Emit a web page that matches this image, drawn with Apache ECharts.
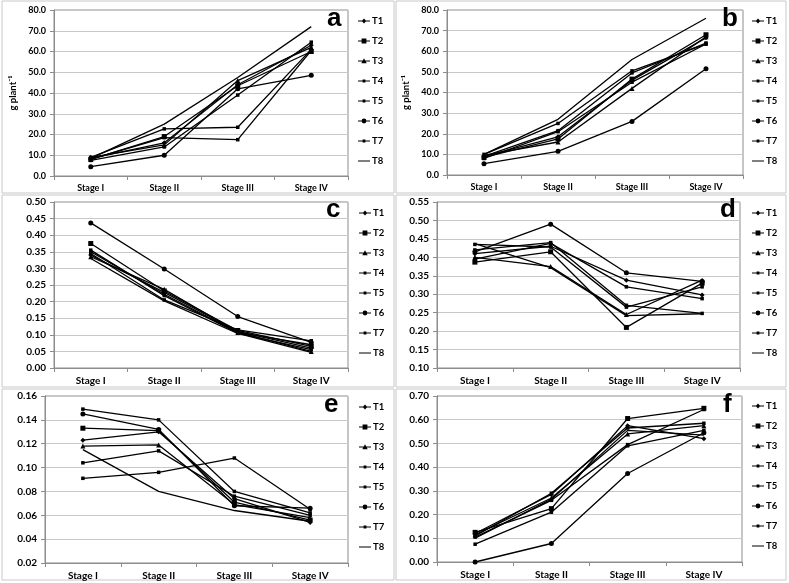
<!DOCTYPE html>
<html>
<head>
<meta charset="utf-8">
<script src="https://cdn.jsdelivr.net/npm/echarts@6/dist/echarts.min.js"></script>
<style>
html, body { margin: 0; padding: 0; background: #fff; }
#main { width: 789px; height: 583px; }
</style>
</head>
<body>
<div id="main"></div>
<script>
// categories and series names
var stages = ['Stage I', 'Stage II', 'Stage III', 'Stage IV']
var treatments = ['T1', 'T2', 'T3', 'T4', 'T5', 'T6', 'T7', 'T8']

// one row per treatment T1..T8, values for Stage I..IV
var panelA = [
  [8.5, 16, 44, 63],
  [8, 19, 43.5, 60],
  [9, 15, 46, 62],
  [8, 18.5, 17.5, 60.5],
  [7.5, 14, 39, 64.5],
  [4.5, 10, 42, 48.5],
  [9, 22.7, 23.5, 61],
  [8.5, 25, 47.5, 72]
]
var panelB = [
  [9, 18.5, 46, 66.5],
  [8.5, 17.5, 46.5, 68],
  [9.5, 16, 42, 67],
  [8, 21, 45, 63.5],
  [9, 21.5, 49.5, 64],
  [5.5, 11.5, 26, 51.5],
  [10, 25, 50.5, 63.5],
  [10, 27, 56, 76]
]
var panelC = [
  [0.34, 0.228, 0.11, 0.06],
  [0.375, 0.232, 0.113, 0.065],
  [0.335, 0.237, 0.108, 0.05],
  [0.35, 0.222, 0.107, 0.07],
  [0.355, 0.218, 0.105, 0.055],
  [0.437, 0.298, 0.155, 0.077],
  [0.345, 0.205, 0.115, 0.082],
  [0.33, 0.202, 0.104, 0.047]
]
var panelD = [
  [0.41, 0.43, 0.338, 0.298],
  [0.387, 0.415, 0.21, 0.33],
  [0.40, 0.375, 0.245, 0.338],
  [0.42, 0.44, 0.27, 0.248],
  [0.395, 0.438, 0.32, 0.288],
  [0.415, 0.49, 0.358, 0.335],
  [0.435, 0.428, 0.265, 0.32],
  [0.437, 0.372, 0.242, 0.247]
]
var panelE = [
  [0.123, 0.13, 0.074, 0.054],
  [0.133, 0.131, 0.071, 0.056],
  [0.118, 0.119, 0.069, 0.058],
  [0.104, 0.114, 0.076, 0.06],
  [0.149, 0.14, 0.08, 0.062],
  [0.145, 0.132, 0.068, 0.066],
  [0.091, 0.096, 0.108, 0.065],
  [0.115, 0.08, 0.064, 0.055]
]
var panelF = [
  [0.12, 0.285, 0.575, 0.52],
  [0.125, 0.225, 0.605, 0.648],
  [0.115, 0.27, 0.54, 0.575],
  [0.105, 0.26, 0.495, 0.643],
  [0.11, 0.29, 0.565, 0.585],
  [0.0, 0.078, 0.373, 0.545],
  [0.075, 0.21, 0.49, 0.555],
  [0.10, 0.265, 0.555, 0.535]
]

// y axis ranges per panel: min, max, interval, decimals
var yMin = [0, 0, 0, 0.1, 0.02, 0]
var yMax = [80, 80, 0.5, 0.55, 0.16, 0.7]
var yStep = [10, 10, 0.05, 0.05, 0.02, 0.1]
var yDigits = [1, 1, 2, 2, 2, 2]
var panelLetters = ['a', 'b', 'c', 'd', 'e', 'f']

var panels = [panelA, panelB, panelC, panelD, panelE, panelF]
var symbols = ['diamond', 'rect', 'triangle', 'rect', 'rect', 'circle', 'rect', 'none']
var symbolSizes = [5, 5, 5, 3.5, 3.5, 5, 3.5, 0]

// legend icons: short line + marker, drawn in a 12x8 box (corner dots keep the box size)
var box = 'M0,0H0.01V0.01H0Z M11.99,7.99H12V8H11.99Z '
var stroke = 'M0,3.5H12V4.5H0Z '
var markers = [
  'M6,1.5L8.3,4L6,6.5L3.7,4Z',
  'M3.6,1.6H8.4V6.4H3.6Z',
  'M6,1.3L8.7,6.3H3.3Z',
  'M4.6,2.6H7.4V5.4H4.6Z',
  'M4.6,2.6H7.4V5.4H4.6Z',
  'M6,1.6A2.4,2.4 0 1 1 5.99,1.6Z',
  'M4.6,2.6H7.4V5.4H4.6Z',
  ''
]
var legendData = treatments.map(function (name, i) {
  return { name: name, icon: 'path://' + box + stroke + markers[i] }
})

// layout of each panel (plot area)
var grids = [
  { left: 54, top: 10, width: 294, height: 166 },
  { left: 447, top: 10, width: 296, height: 165 },
  { left: 54, top: 202, width: 294, height: 166 },
  { left: 437, top: 202, width: 303, height: 166 },
  { left: 45, top: 396, width: 303, height: 167 },
  { left: 437, top: 396, width: 305, height: 166 }
]
var labelSize = [9, 9, 10, 10, 10, 10]
var legendPos = [[358, 15], [752, 15], [359, 207], [752, 207], [359, 401], [752, 400]]
var letterPos = [[327, 6], [722, 6], [326, 197], [720, 197], [324, 392], [723, 392]]
var frames = [
  [2, 1, 392, 192], [396, 1, 390, 192],
  [2, 195, 392, 192], [396, 195, 390, 192],
  [2, 389, 392, 191], [396, 389, 390, 191]
]

var font = 'Lato, "Liberation Sans", sans-serif'

var xAxes = []
var yAxes = []
var series = []
var legends = []
var titles = []
var graphics = []

for (var p = 0; p < 6; p++) {
  xAxes.push({
    type: 'category',
    gridIndex: p,
    data: stages,
    axisLine: { lineStyle: { color: '#8c8c8c' } },
    axisTick: { show: true, length: 4, lineStyle: { color: '#8c8c8c' } },
    axisLabel: { color: '#000', fontSize: labelSize[p], fontWeight: 'bold', fontFamily: font, margin: 8 }
  })
  var digits = yDigits[p]
  yAxes.push({
    type: 'value',
    gridIndex: p,
    min: yMin[p],
    max: yMax[p],
    interval: yStep[p],
    name: p < 2 ? 'g plant\u207B\u00B9' : '',
    nameLocation: 'middle',
    nameRotate: 90,
    nameGap: 36,
    nameTextStyle: { color: '#000', fontSize: 9.5, fontWeight: 'bold', fontFamily: font },
    axisLine: { show: true, lineStyle: { color: '#8c8c8c' } },
    axisTick: { show: true, length: 4, lineStyle: { color: '#8c8c8c' } },
    splitLine: { lineStyle: { color: '#c8c8c8' } },
    axisLabel: {
      color: '#000', fontSize: labelSize[p], fontWeight: 'bold', fontFamily: font, margin: 8,
      formatter: (function (d) { return function (v) { return v.toFixed(d) } })(digits)
    }
  })
  for (var t = 0; t < 8; t++) {
    series.push({
      name: treatments[t],
      type: 'line',
      xAxisIndex: p,
      yAxisIndex: p,
      data: panels[p][t],
      symbol: symbols[t],
      symbolSize: symbolSizes[t],
      color: '#000',
      lineStyle: { color: '#000', width: 1.3 },
      itemStyle: { color: '#000' },
      animation: false
    })
  }
  legends.push({
    data: legendData,
    orient: 'vertical',
    left: legendPos[p][0],
    top: legendPos[p][1],
    itemWidth: 12,
    itemHeight: 8,
    itemGap: 8,
    padding: 0,
    itemStyle: { color: '#000', borderWidth: 0 },
    textStyle: { color: '#000', fontSize: 9.5, fontWeight: 'bold', fontFamily: font, lineHeight: 12, padding: [0, 0, 0, -3] }
  })
  titles.push({
    text: panelLetters[p],
    left: letterPos[p][0],
    top: letterPos[p][1],
    padding: 0,
    textStyle: { color: '#000', fontSize: 26, fontWeight: 'bold', fontFamily: '"Liberation Sans", Arial, sans-serif' }
  })
  graphics.push({
    type: 'rect',
    shape: { x: frames[p][0], y: frames[p][1], width: frames[p][2], height: frames[p][3] },
    style: { fill: 'none', stroke: '#c8c8c8', lineWidth: 1 },
    z: -1
  })
}

for (var g = 0; g < grids.length; g++) {
  grids[g].show = true
  grids[g].borderColor = '#8c8c8c'
  grids[g].borderWidth = 1
  grids[g].containLabel = false
}

var myChart = echarts.init(document.getElementById('main'))
myChart.setOption({
  animation: false,
  backgroundColor: '#fff',
  title: titles,
  legend: legends,
  grid: grids,
  xAxis: xAxes,
  yAxis: yAxes,
  series: series,
  graphic: graphics
})
</script>
</body>
</html>
